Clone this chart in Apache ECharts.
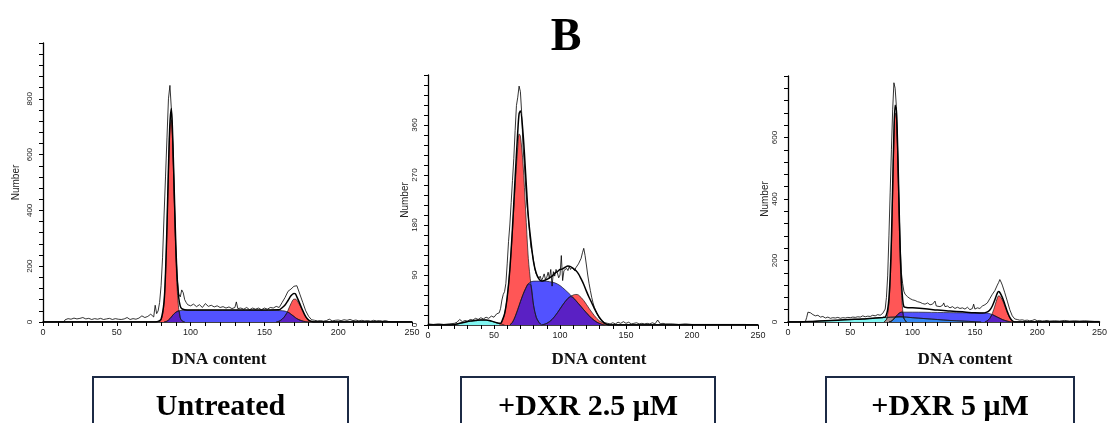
<!DOCTYPE html>
<html><head><meta charset="utf-8">
<script src="https://cdn.jsdelivr.net/npm/echarts@6/dist/echarts.min.js"></script>
<style>html,body{margin:0;padding:0;background:#fff}#c{width:1110px;height:423px}</style>
</head><body><div id="c"></div>
<script>
// ---------- labels ----------
const mainTitle = 'B';
const xAxisTitle = 'DNA content';
const yAxisTitle = 'Number';
const panelNames = ['Untreated', '+DXR 2.5 μM', '+DXR 5 μM'];
const xMax = 250, xStep = 50;
const yMaxes = [1000, 450, 800];
const ySteps = [200, 90, 200];

// ---------- Panel 1 : Untreated ----------
const p1Raw = [[0,0],[14,0],[15,8],[17,12],[19,10],[21,14],[23,11],[25,13],[27,16],[29,11],[31,13],[33,9],[35,12],[37,10],[39,13],[41,9],[43,11],[45,13],[47,9],[49,12],[51,10],[53,9],[55,11],[57,16],[59,9],[61,12],[63,10],[65,14],[67,22],[69,16],[71,20],[73,28],[75,18],[76,60],[77,30],[78,40],[79,70],[80,130],[81,230],[82,380],[83,520],[84,660],[85,800],[86,848],[87,760],[88,640],[89,440],[90,260],[91,150],[92,100],[93,90],[94,115],[95,105],[96,80],[97,70],[98,62],[99,68],[100,58],[102,64],[104,55],[106,62],[108,52],[110,66],[112,56],[114,60],[116,54],[118,58],[120,52],[122,55],[124,50],[126,54],[128,48],[130,52],[131,72],[132,48],[134,50],[136,46],[138,52],[140,44],[142,50],[144,46],[146,50],[148,44],[150,50],[152,46],[154,52],[156,50],[158,56],[160,52],[162,70],[164,88],[166,110],[168,118],[170,128],[171,125],[172,130],[174,100],[176,70],[178,40],[180,20],[182,8],[184,6],[186,4],[188,5],[190,3],[192,5],[194,10],[196,4],[198,6],[200,7],[202,5],[204,8],[206,6],[208,9],[210,5],[212,7],[214,4],[216,6],[218,4],[220,5],[222,3],[224,6],[226,4],[228,5],[230,3],[232,5],[234,2],[236,0],[250,0]];
const p1Fit = [[0,0],[76,0],[78,2],[80,10],[82,72],[83,175],[84,345],[85,552],[86,712],[87,765],[88,640],[89,455],[90,275],[91,150],[92,85],[93,57],[94,48],[96,44],[100,43],[130,43],[160,44],[162,51],[164,61],[166,77],[168,94],[170,102],[171,101],[172,90],[174,66],[176,41],[178,19],[180,7],[182,2],[184,0],[250,0]];
const p1G1 = [[79,0],[80,8],[81,25],[82,70],[83,170],[84,340],[85,540],[86,700],[87,725],[88,610],[89,420],[90,240],[91,110],[92,45],[93,15],[94,5],[96,0]];
const p1S = [[82,0],[84,3],[86,12],[88,25],[90,35],[92,40],[95,42],[130,42],[160,41],[164,39],[166,35],[168,28],[170,20],[172,12],[175,5],[178,1],[181,0]];
const p1G2 = [[158,0],[160,3],[162,10],[164,22],[166,42],[168,66],[170,82],[171,82],[172,78],[174,60],[176,38],[178,18],[180,7],[182,2],[184,0]];
const p1SG1 = [[82,0],[84,3],[86,12],[88,25],[90,35],[92,40],[93,15],[94,5],[96,0]];
const p1SG2 = [[158,0],[160,3],[162,10],[164,22],[166,35],[168,28],[170,20],[172,12],[175,5],[178,1],[181,0]];

// ---------- Panel 2 : +DXR 2.5 uM ----------
const p2Raw = [[0,2],[4,1],[8,2],[12,1],[16,2],[20,3],[22,5],[24,10],[26,6],[28,8],[30,7],[32,10],[34,9],[36,12],[38,10],[40,13],[42,11],[44,14],[46,12],[48,16],[50,14],[52,20],[54,22],[55,30],[56,45],[57,55],[58,60],[59,75],[60,110],[61,150],[62,180],[63,220],[64,260],[65,300],[66,350],[67,395],[68,410],[69,430],[70,420],[71,380],[72,320],[73,290],[74,250],[75,215],[76,195],[77,165],[78,140],[79,130],[80,115],[81,100],[82,92],[83,90],[84,84],[85,88],[86,80],[87,85],[88,92],[89,82],[90,86],[91,95],[92,84],[93,100],[94,70],[95,96],[96,88],[97,100],[98,94],[99,85],[100,90],[101,125],[102,80],[103,98],[104,95],[105,102],[106,98],[107,105],[108,100],[109,104],[110,101],[111,98],[112,103],[113,100],[114,110],[115,108],[116,120],[117,130],[118,138],[119,125],[120,108],[121,90],[122,75],[123,62],[124,50],[125,40],[126,32],[128,20],[130,12],[132,7],[134,4],[136,3],[138,2],[140,4],[142,2],[144,5],[146,3],[148,6],[150,3],[152,5],[154,2],[156,3],[158,4],[160,2],[162,3],[164,2],[166,3],[168,2],[170,4],[172,2],[174,9],[176,2],[178,3],[180,2],[185,2],[190,1],[195,2],[200,1],[210,1],[220,1],[230,1],[240,1],[250,0]];
const p2Fit = [[0,0],[16,0],[20,1],[24,3],[28,5],[32,7],[36,8],[40,9],[44,9],[48,7],[52,4],[55,3],[56,7],[58,20],[60,50],[62,100],[64,175],[66,265],[68,348],[69,380],[70,385],[72,345],[74,271],[76,195],[78,150],[80,113],[82,93],[84,83],[86,79],[88,80],[90,82],[92,85],[94,88],[96,93],[98,96],[100,100],[102,101],[104,104],[106,106],[108,105],[110,102],[112,98],[114,92],[116,83],[118,73],[120,61],[122,50],[124,40],[126,30],[128,21],[130,13],[132,7],[134,3],[136,1],[138,0],[250,0]];
const p2Deb = [[16,0],[20,1],[24,3],[28,5],[32,7],[36,8.5],[40,9],[44,8.5],[48,7],[52,4],[55,2],[58,0]];
const p2G1 = [[54,0],[56,5],[58,20],[60,50],[62,100],[64,170],[66,250],[68,320],[69,344],[70,340],[72,290],[74,205],[76,120],[78,72],[80,35],[82,14],[84,5],[86,0]];
const p2S = [[62,0],[64,5],[66,15],[68,28],[70,42],[72,55],[74,66],[76,74],[78,78],[82,79],[88,79],[92,78],[96,76],[100,71],[104,63],[108,54],[112,44],[116,33],[120,22],[124,12],[128,5],[132,1],[134,0]];
const p2G2 = [[86,0],[90,3],[94,10],[98,22],[102,36],[106,48],[110,54],[112,55],[114,54],[118,44],[122,30],[126,17],[130,7],[134,2],[137,0]];
const p2SG1 = [[62,0],[64,5],[66,15],[68,28],[70,42],[72,55],[74,66],[76,74],[78,72],[80,35],[82,14],[84,5],[86,0]];
const p2SG2 = [[86,0],[90,3],[94,10],[98,22],[102,36],[106,48],[108,51],[110,49],[112,44],[116,33],[120,22],[124,12],[128,5],[132,1],[134,0]];

// ---------- Panel 3 : +DXR 5 uM ----------
const p3Raw = [[0,0],[12,0],[14,2],[15,15],[16,32],[17,36],[18,30],[19,28],[20,24],[21,26],[22,20],[24,22],[26,16],[28,18],[30,13],[32,16],[34,12],[36,14],[38,13],[40,15],[42,12],[44,14],[46,13],[48,15],[50,14],[52,16],[54,15],[56,17],[58,16],[60,20],[62,17],[64,19],[66,18],[68,22],[70,20],[72,24],[74,22],[76,28],[77,32],[78,42],[79,80],[80,150],[81,280],[82,420],[83,560],[84,690],[85,778],[86,760],[87,700],[88,560],[89,400],[90,250],[91,160],[92,125],[93,100],[94,90],[95,95],[96,82],[97,88],[98,76],[99,80],[100,72],[101,78],[102,70],[103,74],[104,66],[105,72],[106,64],[107,70],[108,60],[109,66],[110,58],[112,62],[114,56],[116,58],[118,68],[119,52],[120,56],[122,50],[124,54],[125,62],[126,50],[128,52],[130,46],[132,50],[134,44],[136,48],[138,44],[140,46],[142,42],[144,48],[146,40],[148,44],[149,58],[150,42],[152,46],[154,44],[156,52],[158,56],[160,62],[162,76],[164,90],[166,102],[168,120],[169,128],[170,138],[171,130],[172,120],[174,95],[176,68],[178,40],[180,20],[182,10],[184,8],[186,6],[188,7],[190,5],[192,6],[194,4],[196,5],[198,8],[200,4],[202,5],[204,3],[206,4],[208,5],[210,3],[214,4],[218,3],[222,5],[226,3],[230,4],[234,3],[238,4],[242,3],[246,2],[250,2]];
const p3Fit = [[0,0],[10,0],[20,2],[30,4],[40,6],[50,8],[60,10],[70,13],[76,15],[78,16],[79,24],[80,41],[81,76],[82,147],[83,268],[84,440],[85,613],[86,705],[87,688],[88,570],[89,402],[90,244],[91,135],[92,75],[93,50],[95,47],[100,46],[110,43],[120,39],[130,36],[140,33],[150,30],[156,29],[160,33],[162,39],[164,52],[166,72],[168,94],[169,99],[170,96],[172,80],[174,58],[176,34],[178,15],[180,4],[182,0],[250,0]];
const p3Deb = [[10,0],[20,2],[30,4],[40,6],[50,8],[60,10],[70,12.5],[80,15],[85,16],[90,17],[100,14],[110,11],[120,8],[130,5],[140,3],[150,1],[155,0]];
const p3G1 = [[77,0],[79,8],[80,25],[81,60],[82,130],[83,250],[84,420],[85,590],[86,680],[87,660],[88,540],[89,370],[90,210],[91,100],[92,40],[93,12],[95,0]];
const p3S = [[81,0],[83,3],[85,10],[87,20],[89,28],[91,32],[100,32],[120,31],[140,30],[160,29],[162,27],[164,24],[166,20],[168,16],[170,12],[172,8],[175,4],[178,1],[180,0]];
const p3G2 = [[158,0],[160,4],[162,12],[164,28],[166,52],[168,78],[169,85],[170,84],[172,72],[174,52],[176,30],[178,14],[180,4],[182,0]];
const p3SG1 = [[81,0],[83,3],[85,10],[87,20],[89,28],[91,32],[92,32],[93,12],[95,0]];
const p3SG2 = [[158,0],[160,4],[162,12],[164,24],[166,20],[168,16],[170,12],[172,8],[175,4],[178,1],[180,0]];
const p3DebG1 = [[77,0],[79,8],[80,15],[85,16],[88,16.5],[92,17],[93,12],[95,0]];
const p3DebS = [[81,0],[83,3],[85,10],[87,16.5],[90,17],[100,14],[110,11],[120,8],[130,5],[140,3],[150,1],[155,0]];

// ---------- colours ----------
const RED = '#ff5656', BLUE = '#5252ff', PURPLE = '#5a20c4', CYAN = '#80f6f2', AZURE = '#3688f2', GREYRED = '#a68c8c';

const chart = echarts.init(document.getElementById('c'), null, {renderer: 'canvas'});

const grids = [
  {left: 43, top: 43, width: 369, height: 279},
  {left: 428, top: 75, width: 330, height: 250},
  {left: 788, top: 76, width: 324, height: 246}
];
const nameGaps = [22, 17, 17];

const xAxes = grids.map((g, i) => ({
  type: 'value', gridIndex: i, min: 0, max: xMax, interval: xStep,
  axisLine: {lineStyle: {color: '#000', width: 1.6}},
  axisTick: {length: 4, lineStyle: {color: '#000', width: 1}},
  minorTick: {show: true, splitNumber: 5, length: 4, lineStyle: {color: '#000', width: 1}},
  splitLine: {show: false},
  axisLabel: {fontFamily: 'Liberation Sans', fontSize: 9, color: '#222', margin: 6}
}));
const yAxes = grids.map((g, i) => ({
  type: 'value', gridIndex: i, min: 0, max: yMaxes[i], interval: ySteps[i],
  name: yAxisTitle, nameLocation: 'middle', nameGap: nameGaps[i], nameRotate: 90,
  nameTextStyle: {fontFamily: 'Liberation Sans', fontSize: 10, color: '#222'},
  axisLine: {show: true, lineStyle: {color: '#000', width: 1.3}},
  axisTick: {show: true, length: 4, lineStyle: {color: '#000', width: 1}},
  minorTick: {show: true, splitNumber: 5, length: 4, lineStyle: {color: '#000', width: 1}},
  splitLine: {show: false},
  axisLabel: {rotate: 90, showMaxLabel: false, fontFamily: 'Liberation Sans', fontSize: 8, color: '#222', margin: 9}
}));

function area(i, data, color) {
  return {type: 'line', xAxisIndex: i, yAxisIndex: i, data: data, symbol: 'none', smooth: 0.3,
    lineStyle: {color: '#1a1a1a', width: 0.7}, areaStyle: {color: color, opacity: 1}, animation: false, silent: true};
}
function line(i, data, w, sm) {
  return {type: 'line', xAxisIndex: i, yAxisIndex: i, data: data, symbol: 'none', smooth: sm,
    lineStyle: {color: '#000', width: w}, animation: false, silent: true};
}

const series = [
  area(0, p1G1, RED), area(0, p1G2, RED), area(0, p1S, BLUE), area(0, p1SG1, PURPLE), area(0, p1SG2, PURPLE),
  line(0, p1Fit, 1.5, 0.3), line(0, p1Raw, 0.8, false),
  area(1, p2Deb, CYAN), area(1, p2G1, RED), area(1, p2G2, RED), area(1, p2S, BLUE), area(1, p2SG1, PURPLE), area(1, p2SG2, PURPLE),
  line(1, p2Fit, 1.5, 0.3), line(1, p2Raw, 0.8, false),
  area(2, p3Deb, CYAN), area(2, p3G1, RED), area(2, p3G2, RED), area(2, p3S, BLUE), area(2, p3SG1, PURPLE), area(2, p3SG2, PURPLE),
  area(2, p3DebG1, GREYRED), area(2, p3DebS, AZURE),
  line(2, p3Fit, 1.5, 0.3), line(2, p3Raw, 0.8, false)
];

const serif = '"Liberation Serif", "DejaVu Serif", serif';
const labelXs = [219, 599, 965];
const boxes = [[93, 348], [461, 715], [826, 1074]];
const graphic = [
  {type: 'text', style: {text: mainTitle, x: 566, y: 38, font: 'bold 46px ' + serif, fill: '#000', textAlign: 'center', textVerticalAlign: 'middle'}}
];
labelXs.forEach((x) => graphic.push({type: 'text', style: {text: xAxisTitle, x: x, y: 360, font: 'bold 17px ' + serif, fill: '#111', textAlign: 'center', textVerticalAlign: 'middle'}}));
boxes.forEach((b, i) => {
  graphic.push({type: 'rect', shape: {x: b[0], y: 377, width: b[1] - b[0], height: 70}, style: {fill: 'none', stroke: '#1c2a45', lineWidth: 2}});
  graphic.push({type: 'text', style: {text: panelNames[i], x: (b[0] + b[1]) / 2, y: 407, font: 'bold 30px ' + serif, fill: '#000', textAlign: 'center', textVerticalAlign: 'middle'}});
});

chart.setOption({
  animation: false,
  backgroundColor: '#fff',
  grid: grids,
  xAxis: xAxes,
  yAxis: yAxes,
  series: series,
  graphic: graphic
});
</script>
</body></html>
